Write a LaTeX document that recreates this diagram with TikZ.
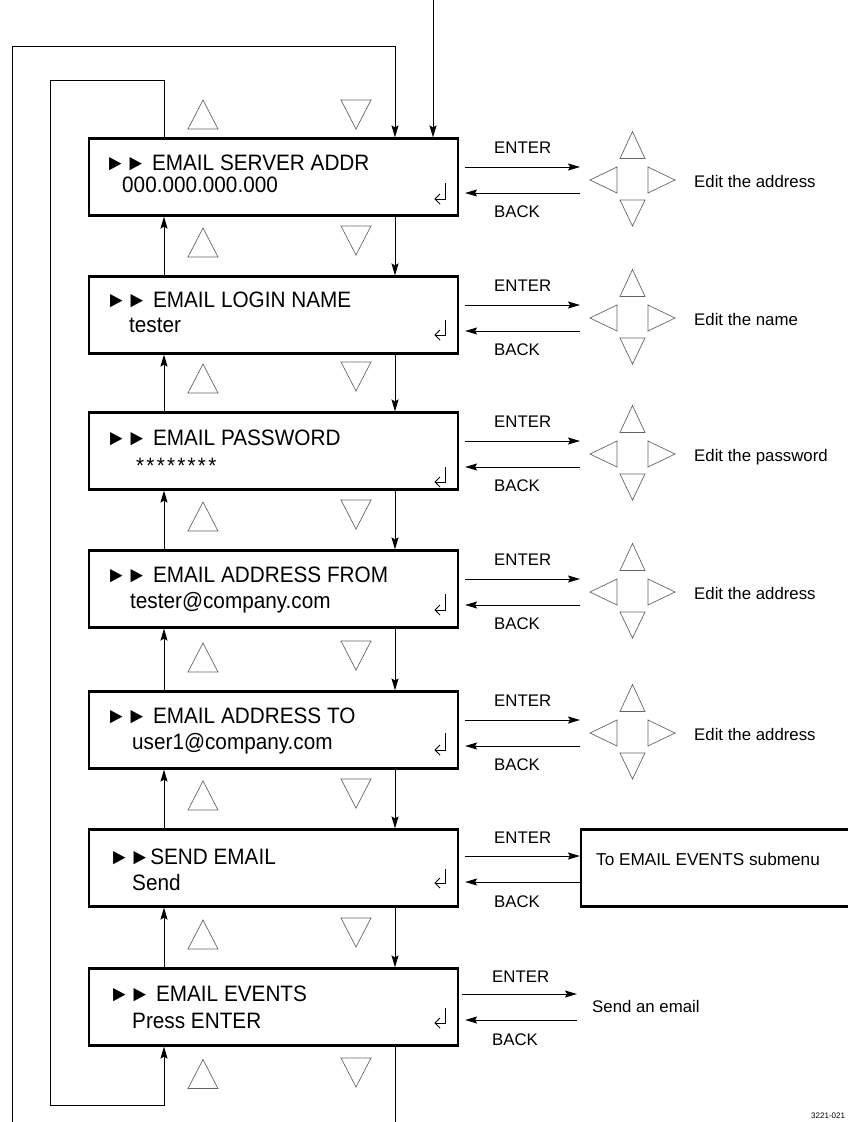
\documentclass[tikz,border=0pt]{standalone}
\usepackage{fontspec}
\setmainfont{Liberation Sans}
\newfontfamily\boxfont[FakeStretch=0.93]{Liberation Sans}
\newfontfamily\astfont[FakeStretch=0.93,LetterSpace=10]{Liberation Sans}
\usetikzlibrary{arrows.meta}
\newcommand\mytriU[4]{\draw[tri] ({#1-#3/2},{#2+#4/2}) -- (#1,{#2-#4/2}) -- ({#1+#3/2},{#2+#4/2}) -- cycle;}
\newcommand\mytriD[4]{\draw[tri] ({#1-#3/2},{#2-#4/2}) -- (#1,{#2+#4/2}) -- ({#1+#3/2},{#2-#4/2}) -- cycle;}
\newcommand\mytriL[4]{\draw[tri] ({#1+#3/2},{#2-#4/2}) -- ({#1-#3/2},#2) -- ({#1+#3/2},{#2+#4/2}) -- cycle;}
\newcommand\mytriR[4]{\draw[tri] ({#1-#3/2},{#2-#4/2}) -- ({#1+#3/2},#2) -- ({#1-#3/2},{#2+#4/2}) -- cycle;}
\newcommand\myret[2]{\draw[ret] (445,#1) -- (445,#2) -- (435,#2); \draw[ret] (440,{#2-5}) -- (435,#2) -- (440,{#2+5});}
\begin{document}
\begin{tikzpicture}[x=1pt,y=-1pt,
  mbox/.style={draw,line width=2.2pt,minimum width=369pt,minimum height=77pt,inner sep=0pt},
  conn/.style={line width=1pt},
  arr/.style={conn,-{Stealth[length=12pt,width=7pt,inset=2pt]}},
  tri/.style={draw=black!60,line width=0.7pt,line join=miter},
  boxtxt/.style={anchor=base west,inner sep=0pt,font=\boxfont\fontsize{22.3}{26}\selectfont},
  lbl/.style={anchor=base west,inner sep=0pt,font=\fontsize{16.8}{20}\selectfont},
  ret/.style={line width=0.9pt}]
\useasboundingbox (0,0) rectangle (848,1122);

% menu boxes
\node[mbox] (b1) at (273.5,177) {};
\node[mbox] (b2) at (273.5,315) {};
\node[mbox] (b3) at (273.5,451) {};
\node[mbox] (b4) at (273.5,589) {};
\node[mbox] (b5) at (273.5,730) {};
\node[mbox] (b6) at (273.5,868) {};
\node[mbox] (b7) at (273.5,1007) {};

% box texts
\node[boxtxt] (t1a) at (105,170) {►► EMAIL SERVER ADDR};
\node[boxtxt] (t1b) at (122,192) {000.000.000.000};
\node[boxtxt] (t2a) at (106,307) {►► EMAIL LOGIN NAME};
\node[boxtxt] (t2b) at (129,332) {tester};
\node[boxtxt] (t3a) at (106,445) {►► EMAIL PASSWORD};
\node[boxtxt,font=\astfont\fontsize{22.3}{26}\selectfont] (t3b) at (136,473) {********};
\node[boxtxt] (t4a) at (106,582) {►► EMAIL ADDRESS FROM};
\node[boxtxt] (t4b) at (130,608) {tester@company.com};
\node[boxtxt] (t5a) at (106,723) {►► EMAIL ADDRESS TO};
\node[boxtxt] (t5b) at (132,749) {user1@company.com};
\node[boxtxt] (t6a) at (109,864) {►►SEND EMAIL};
\node[boxtxt] (t6b) at (132,890) {Send};
\node[boxtxt] (t7a) at (109,1001) {►► EMAIL EVENTS};
\node[boxtxt] (t7b) at (132,1028) {Press ENTER};

% return symbols
\myret{183}{199}
\myret{320}{335}
\myret{467}{482}
\myret{594}{610}
\myret{733}{750}
\myret{869}{883}
\myret{1008}{1023}

% up / down connectors between boxes
\coordinate (ux) at (164,0);
\coordinate (dx) at (395,0);
\foreach \a/\b in {1/2,2/3,3/4,4/5,5/6,6/7}{
  \draw[arr] (b\b.north -| ux) -- (b\a.south -| ux);
  \draw[arr] (b\a.south -| dx) -- (b\b.north -| dx);
}

% loops
\coordinate (in) at (433,0);
\draw[arr] (in) -- (b1.north -| in);
\coordinate (o0) at (12,1122);
\coordinate (o1) at (12,46);
\coordinate (o2) at (395,46);
\draw[arr] (o0) -- (o1) -- (o2) -- (b1.north -| o2);
\coordinate (d7) at (395,1122);
\draw[conn] (b7.south -| d7) -- (d7);
\coordinate (i1) at (164,80);
\coordinate (i2) at (50,80);
\coordinate (i3) at (50,1105);
\coordinate (i4) at (164,1105);
\draw[arr] (b1.north -| i1) -- (i1) -- (i2) -- (i3) -- (i4) -- (b7.south -| i4);

% main navigation triangles
\mytriU{203}{114.5}{30}{29}
\mytriD{356}{114.5}{30}{29}
\foreach \T in {276,412,550,691,829,968}{
  \mytriU{203}{\T-33.5}{30}{29}
  \mytriD{356}{\T-35.5}{30}{29}
}
\mytriU{203}{1074}{30}{29}
\mytriD{356}{1072.5}{30}{29}

% right side: edit clusters
\foreach \i/\T/\w in {1/138/address,2/276/name,3/412/password,4/550/address,5/691/address}{
  \coordinate (e\i) at (580,\T+29);
  \coordinate (k\i) at (580,\T+55);
  \draw[arr,shorten <=6pt] (b\i.east |- e\i) -- (e\i);
  \draw[arr,shorten >=6pt] (k\i) -- (b\i.east |- k\i);
  \node[lbl] at (494,\T+15) {ENTER};
  \node[lbl] at (494,\T+79) {BACK};
  \mytriU{632.5}{\T+7}{25}{27}
  \mytriL{603.5}{\T+42}{27}{26}
  \mytriR{661.5}{\T+42}{27}{26}
  \mytriD{632.5}{\T+75}{25}{26}
  \node[lbl] at (694,\T+49) {Edit the \w};
}

% SEND EMAIL -> submenu
\node[draw,line width=2.2pt,minimum width=300pt,minimum height=77pt,inner sep=0pt] (sm) at (731,868) {};
\node[lbl,font=\fontsize{17.2}{20}\selectfont] (smt) at (596,865) {To EMAIL EVENTS submenu};
\coordinate (e6) at (0,856);
\coordinate (k6) at (0,882);
\draw[arr,shorten <=6pt] (b6.east |- e6) -- (sm.west |- e6);
\draw[arr,shorten >=6pt] (sm.west |- k6) -- (b6.east |- k6);
\node[lbl] at (494,843) {ENTER};
\node[lbl] at (494,907) {BACK};

% EMAIL EVENTS -> send
\coordinate (e7) at (577,994);
\coordinate (k7) at (577,1020);
\draw[arr,shorten <=3pt] (b7.east |- e7) -- (e7);
\draw[arr,shorten >=6pt] (k7) -- (b7.east |- k7);
\node[lbl] at (492,982) {ENTER};
\node[lbl] at (492,1045) {BACK};
\node[lbl] (send) at (592,1012) {Send an email};

\node[anchor=base west,inner sep=0pt,font=\fontsize{8}{9}\selectfont] (fig) at (811,1118) {3221-021};
\end{tikzpicture}
\end{document}
